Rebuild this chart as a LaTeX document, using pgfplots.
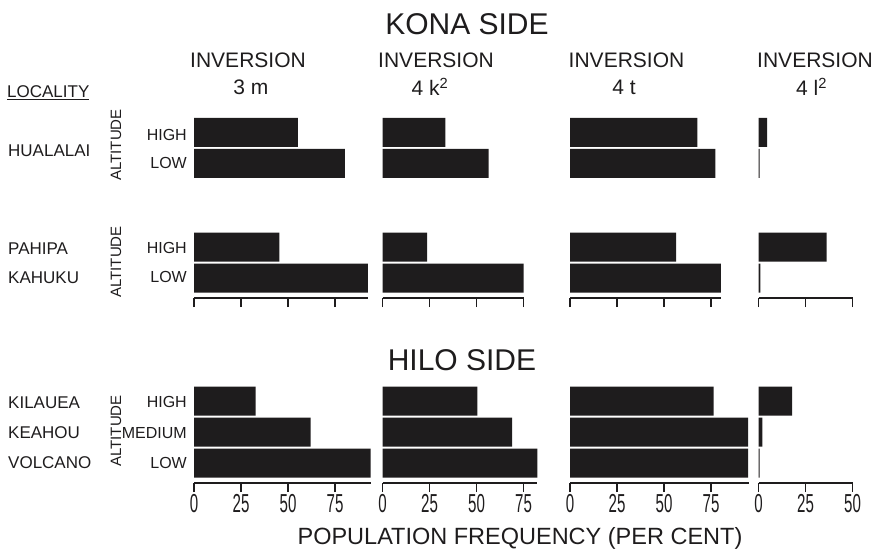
\documentclass[border=0pt]{standalone}
\usepackage{fontspec}
\setmainfont{Liberation Sans}
\newfontfamily\ticksfont[FakeStretch=0.58]{Liberation Sans}
\usepackage{pgfplots}
\pgfplotsset{compat=1.18}
\definecolor{ink}{HTML}{1E1C1D}
\pgfplotsset{
  panel/.style={
    xbar, bar width=29pt, x=1.88pt, y=31pt,
    xmin=0, ymin=-0.645,
    axis x line=bottom, axis y line=none,
    x axis line style={-, line width=1.3pt, draw=ink},
    xtick align=outside, major tick length=9pt,
    tick style={line width=1.3pt, draw=ink},
    ytick=\empty,
    anchor=south west,
    /pgf/number format/assume math mode=true,
    xticklabel style={font=\ticksfont\fontsize{26}{26}\selectfont, text=ink, inner sep=1pt, yshift=-1.5pt},
  },
  kona/.style={panel, ymax=5.2, xticklabels={}},
  hilo/.style={panel, ymax=2.5},
}
\begin{document}
\begin{tikzpicture}
\useasboundingbox (0pt,0pt) rectangle (881pt,-549pt);
% ---------- KONA SIDE ----------
\begin{axis}[kona, at={(194pt,-298pt)}, xmax=92.5, xtick={0,25,50,75}]
\addplot[fill=ink, draw=none] coordinates {(55.2,4.7) (80.3,3.7) (45.4,1) (92.7,0)};
\end{axis}
\begin{axis}[kona, at={(382.5pt,-298pt)}, xmax=75, xtick={0,25,50,75}]
\addplot[fill=ink, draw=none] coordinates {(33.5,4.7) (56.4,3.7) (23.8,1) (75.5,0)};
\end{axis}
\begin{axis}[kona, at={(570pt,-298pt)}, xmax=80.3, xtick={0,25,50,75}]
\addplot[fill=ink, draw=none] coordinates {(67.7,4.7) (77.3,3.7) (56.4,1) (80.3,0)};
\end{axis}
\begin{axis}[kona, at={(758.5pt,-298pt)}, xmax=50, xtick={0,25,50}]
\addplot[fill=ink, draw=none] coordinates {(4.6,4.7) (0.6,3.7) (36.2,1) (1.0,0)};
\end{axis}
% ---------- HILO SIDE ----------
\begin{axis}[hilo, at={(194pt,-483pt)}, xmax=94, xtick={0,25,50,75}, xticklabels={0,25,50,75}]
\addplot[fill=ink, draw=none] coordinates {(32.8,2) (62,1) (94,0)};
\end{axis}
\begin{axis}[hilo, at={(382.5pt,-483pt)}, xmax=82.4, xtick={0,25,50,75}, xticklabels={0,25,50,75}]
\addplot[fill=ink, draw=none] coordinates {(50.4,2) (69,1) (82.4,0)};
\end{axis}
\begin{axis}[hilo, at={(570pt,-483pt)}, xmax=95, xtick={0,25,50,75}, xticklabels={0,25,50,75}]
\addplot[fill=ink, draw=none] coordinates {(76.4,2) (94.8,1) (94.8,0)};
\end{axis}
\begin{axis}[hilo, at={(758.5pt,-483pt)}, xmax=50, xtick={0,25,50}, xticklabels={0,25,50}]
\addplot[fill=ink, draw=none] coordinates {(17.9,2) (2,1) (0.6,0)};
\end{axis}
% ---------- Text ----------
\begin{scope}[x=1pt, y=1pt, every node/.style={text=ink, inner sep=0pt}]
\node[font=\fontsize{30}{30}\selectfont] at (467,-24) {KONA SIDE};
\node[font=\fontsize{30}{30}\selectfont] at (462,-360) {HILO SIDE};
\foreach \cx in {248,436,626.5,815}
  \node[font=\fontsize{21}{21}\selectfont] at (\cx,-60.5) {INVERSION};
\node[font=\fontsize{21}{21}\selectfont] at (251,-87) {3 m};
\node[font=\fontsize{21}{21}\selectfont] at (430,-87) {4 k\textsuperscript{2}};
\node[font=\fontsize{21}{21}\selectfont] at (624,-87) {4 t};
\node[font=\fontsize{21}{21}\selectfont] at (811.5,-87) {4 l\textsuperscript{2}};
\node[font=\fontsize{17}{17}\selectfont, anchor=west] at (7,-93) {\underline{LOCALITY}};
\foreach \nm/\yy in {HUALALAI/-150.5, PAHIPA/-249, KAHUKU/-278, KILAUEA/-403, KEAHOU/-433, VOLCANO/-463}
  \node[font=\fontsize{17}{17}\selectfont, anchor=west] at (8,\yy) {\nm};
\foreach \yy in {-145,-262,-431}
  \node[font=\fontsize{15}{15}\selectfont, rotate=90] at (116,\yy) {ALTITUDE};
\foreach \nm/\yy in {HIGH/-135, LOW/-163, HIGH/-248, LOW/-277, HIGH/-402, MEDIUM/-433, LOW/-463}
  \node[font=\fontsize{16}{16}\selectfont, anchor=east] at (187,\yy) {\nm};
\node[font=\fontsize{23.5}{23.5}\selectfont] at (520,-538) {POPULATION FREQUENCY (PER CENT)};
\end{scope}
\end{tikzpicture}
\end{document}
